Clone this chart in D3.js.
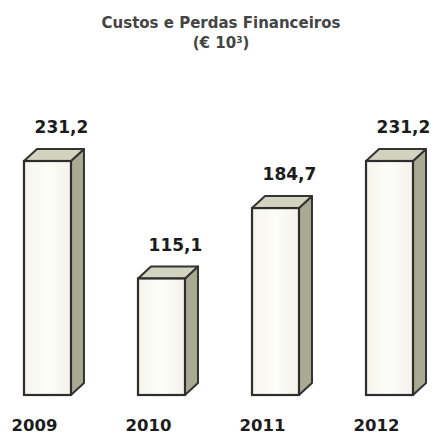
<!DOCTYPE html>
<html>
<head>
<meta charset="utf-8">
<script src="https://cdn.jsdelivr.net/npm/d3@7"></script>
<style>
  body { margin: 0; background: #fff; }
  svg { display: block; }
</style>
</head>
<body>
<div id="wrapper"></div>
<script>
// data
const years = ["2009", "2010", "2011", "2012"]
const values = [231.2, 115.1, 184.7, 231.2]
const valueLabels = ["231,2", "115,1", "184,7", "231,2"]

const width = 438
const height = 436
const baseY = 395
const depth = {dx: 13, dy: -12}

const svg = d3.select("#wrapper")
  .append("svg")
    .attr("width", width)
    .attr("height", height)

// front gradient (slightly warm white)
const defs = svg.append("defs")
const grad = defs.append("linearGradient")
  .attr("id", "front")
  .attr("x1", "0").attr("x2", "1")
grad.append("stop").attr("offset", "0%").attr("stop-color", "#f6f6ee")
grad.append("stop").attr("offset", "50%").attr("stop-color", "#fdfdf9")
grad.append("stop").attr("offset", "100%").attr("stop-color", "#f3f3ea")

const x = d3.scaleBand()
  .domain(years)
  .range([24, 413])
  .paddingInner(0.588)
  .paddingOuter(0)

const y = d3.scaleLinear()
  .domain([0, 231.2])
  .range([baseY, 161])

// title
const title = svg.append("text")
  .attr("x", 221)
  .attr("text-anchor", "middle")
  .style("font-family", "'DejaVu Sans', sans-serif")
  .style("font-weight", "bold")
  .style("font-size", "15px")
  .attr("fill", "#444")
title.append("tspan").attr("x", 221).attr("y", 28).text("Custos e Perdas Financeiros")
const sub = title.append("tspan").attr("x", 221).attr("y", 48)
sub.text("(€ 10")
title.append("tspan").attr("dy", -5).style("font-size", "9px").text("3")
title.append("tspan").attr("dy", 5).text(")")

const bars = svg.selectAll("g.bar")
  .data(years)
  .enter()
  .append("g")
    .attr("class", "bar")

bars.each(function(d, i) {
  const g = d3.select(this)
  const x0 = x(d)
  const x1 = x0 + x.bandwidth()
  const yt = y(values[i])
  const yb = y(0)
  const {dx, dy} = depth

  // side face
  g.append("path")
    .attr("d", `M${x1},${yt} L${x1 + dx},${yt + dy} L${x1 + dx},${yb + dy} L${x1},${yb} Z`)
    .attr("fill", "#a9aa92")
    .attr("stroke", "#333")
    .attr("stroke-width", 2)
    .attr("stroke-linejoin", "round")

  // top face
  g.append("path")
    .attr("d", `M${x0},${yt} L${x0 + dx},${yt + dy} L${x1 + dx},${yt + dy} L${x1},${yt} Z`)
    .attr("fill", "#d2d4c0")
    .attr("stroke", "#333")
    .attr("stroke-width", 2)
    .attr("stroke-linejoin", "round")

  // front face
  g.append("rect")
    .attr("x", x0)
    .attr("y", yt)
    .attr("width", x.bandwidth())
    .attr("height", yb - yt)
    .attr("fill", "url(#front)")
    .attr("stroke", "#2e2e2e")
    .attr("stroke-width", 2.2)

  // value label
  g.append("text")
    .attr("x", x0 + x.bandwidth() / 2 + 14)
    .attr("y", yt + dy - 16)
    .attr("text-anchor", "middle")
    .style("font-family", "'DejaVu Sans', sans-serif")
    .style("font-weight", "bold")
    .style("font-size", "17px")
    .attr("fill", "#1c1c1c")
    .text(valueLabels[i])

  // year label
  g.append("text")
    .attr("x", x0 + x.bandwidth() / 2 - 13)
    .attr("y", 431)
    .attr("text-anchor", "middle")
    .style("font-family", "'DejaVu Sans', sans-serif")
    .style("font-weight", "bold")
    .style("font-size", "16.5px")
    .attr("fill", "#1c1c1c")
    .text(d)
})
</script>
</body>
</html>
